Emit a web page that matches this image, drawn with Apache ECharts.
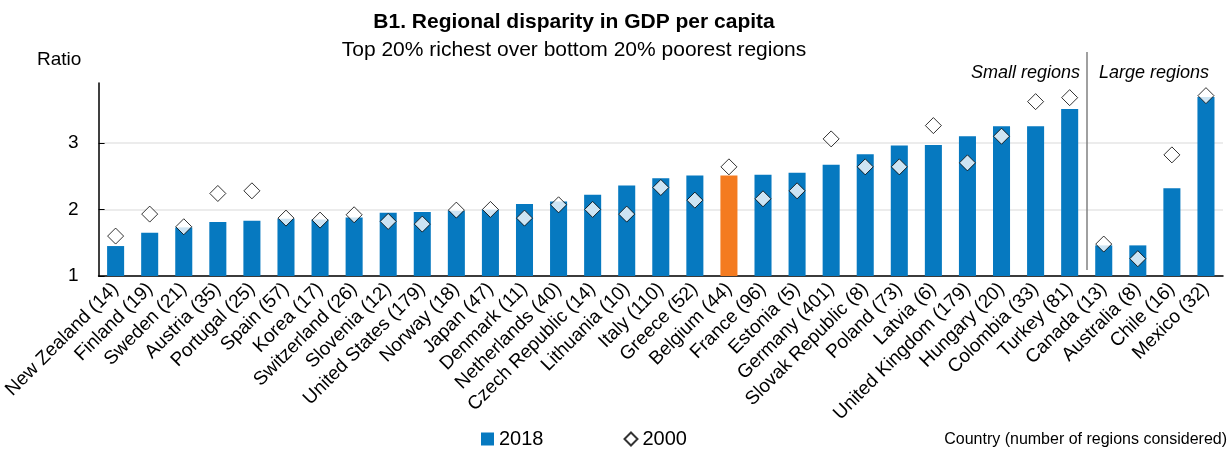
<!DOCTYPE html>
<html>
<head>
<meta charset="utf-8">
<style>
  html, body { margin: 0; padding: 0; background: #fff; }
  #main { width: 1230px; height: 450px; }
</style>
<script src="https://cdn.jsdelivr.net/npm/echarts@6/dist/echarts.min.js"></script>
</head>
<body>
<div id="main"></div>
<script>
// Countries (number of regions considered); last four are "large regions"
var countries = [
  'New Zealand (14)', 'Finland (19)', 'Sweden (21)', 'Austria (35)', 'Portugal (25)',
  'Spain (57)', 'Korea (17)', 'Switzerland (26)', 'Slovenia (12)', 'United States (179)',
  'Norway (18)', 'Japan (47)', 'Denmark (11)', 'Netherlands (40)', 'Czech Republic (14)',
  'Lithuania (10)', 'Italy (110)', 'Greece (52)', 'Belgium (44)', 'France (96)',
  'Estonia (5)', 'Germany (401)', 'Slovak Republic (8)', 'Poland (73)', 'Latvia (6)',
  'United Kingdom (179)', 'Hungary (20)', 'Colombia (33)', 'Turkey (81)',
  'Canada (13)', 'Australia (8)', 'Chile (16)', 'Mexico (32)'
];

var ratio2018 = [
  1.45, 1.65, 1.73, 1.81, 1.83,
  1.86, 1.85, 1.88, 1.95, 1.96,
  1.98, 2.00, 2.08, 2.12, 2.22,
  2.36, 2.47, 2.51, 2.51, 2.52,
  2.55, 2.67, 2.83, 2.96, 2.97,
  3.10, 3.25, 3.25, 3.51,
  1.46, 1.46, 2.32, 3.69
];

var ratio2000 = [
  1.60, 1.93, 1.74, 2.24, 2.28,
  1.87, 1.84, 1.92, 1.82, 1.78,
  1.99, 2.00, 1.87, 2.07, 2.00,
  1.93, 2.33, 2.14, 2.64, 2.16,
  2.28, 3.06, 2.64, 2.64, 3.26,
  2.70, 3.10, 3.62, 3.68,
  1.48, 1.26, 2.82, 3.71
];

var highlighted = 'Belgium (44)';
var firstLargeIndex = 29; // Canada starts the "large regions" group
var yTicks = [1, 2, 3];

var blue = '#0679c0';
var orange = '#f47b20';
var font = 'Liberation Sans, Arial, sans-serif';

var chartDom = document.getElementById('main');
var myChart = echarts.init(chartDom);
var option;

var barData = ratio2018.map(function (v, i) {
  if (countries[i] === highlighted) {
    return { value: v, itemStyle: { color: orange } };
  }
  return v;
});

option = {
  animation: false,
  textStyle: { fontFamily: font, color: '#000' },
  title: [
    {
      text: 'B1. Regional disparity in GDP per capita',
      subtext: 'Top 20% richest over bottom 20% poorest regions',
      left: 569,
      top: 7,
      textAlign: 'center',
      itemGap: 7,
      textStyle: { fontFamily: font, fontSize: 21, fontWeight: 'bold', color: '#000' },
      subtextStyle: { fontFamily: font, fontSize: 21, color: '#000' }
    },
    {
      text: 'Ratio',
      left: 32,
      top: 45,
      textStyle: { fontFamily: font, fontSize: 19, fontWeight: 'normal', color: '#000' }
    },
    {
      text: 'Small regions',
      left: 1075,
      top: 59,
      textAlign: 'right',
      textStyle: { fontFamily: font, fontSize: 18, fontStyle: 'italic', fontWeight: 'normal', color: '#000' }
    },
    {
      text: 'Large regions',
      left: 1094,
      top: 59,
      textStyle: { fontFamily: font, fontSize: 18, fontStyle: 'italic', fontWeight: 'normal', color: '#000' }
    },
    {
      text: 'Country (number of regions considered)',
      left: 1222,
      top: 427,
      textAlign: 'right',
      textStyle: { fontFamily: font, fontSize: 16, fontWeight: 'normal', color: '#000' }
    }
  ],
  legend: {
    left: 476,
    top: 424,
    itemWidth: 13,
    itemHeight: 13,
    itemGap: 80,
    textStyle: { fontFamily: font, fontSize: 20, color: '#000' },
    data: [
      { name: '2018', icon: 'rect' },
      { name: '2000', icon: 'diamond' }
    ]
  },
  grid: {
    left: 98,
    right: 7,
    top: 83,
    bottom: 174
  },
  xAxis: [
    {
      type: 'category',
      data: countries,
      axisLine: { lineStyle: { color: '#000', width: 1.5 } },
      axisTick: { inside: true, length: 6, lineStyle: { color: '#000' } },
      axisLabel: {
        interval: 0,
        rotate: 45,
        margin: 10,
        fontFamily: font,
        fontSize: 19,
        color: '#000'
      }
    },
    {
      type: 'value',
      min: 0,
      max: countries.length,
      show: false
    }
  ],
  yAxis: {
    type: 'value',
    min: yTicks[0],
    max: 3.9,
    interval: 1,
    axisLine: { show: true, lineStyle: { color: '#000', width: 1.5 } },
    axisTick: { show: true, inside: true, length: 6, lineStyle: { color: '#000' } },
    axisLabel: {
      margin: 20,
      fontFamily: font,
      fontSize: 19,
      color: '#000',
      showMaxLabel: false,
      formatter: function (v) { return yTicks.indexOf(v) >= 0 ? String(v) : ''; }
    },
    splitLine: {
      show: true,
      showMaxLine: false,
      lineStyle: { color: '#e6e6e6', width: 1.5 }
    }
  },
  series: [
    {
      name: '2018',
      type: 'bar',
      barWidth: '50%',
      itemStyle: { color: blue },
      data: barData,
      z: 2
    },
    {
      name: '2000',
      type: 'scatter',
      symbol: 'diamond',
      symbolSize: [16, 16],
      itemStyle: { color: '#fff', borderColor: '#000', borderWidth: 1 },
      data: ratio2000,
      z: 3
    },
    {
      // group separator between small and large regions
      name: 'separator',
      type: 'scatter',
      xAxisIndex: 1,
      data: [],
      silent: true,
      markLine: {
        silent: true,
        symbol: ['none', 'none'],
        label: { show: false },
        lineStyle: { color: '#808080', width: 1.5, type: 'solid' },
        data: [[{ xAxis: firstLargeIndex, y: 52 }, { xAxis: firstLargeIndex, y: 270 }]]
      }
    }
  ]
};

option && myChart.setOption(option);
</script>
</body>
</html>
